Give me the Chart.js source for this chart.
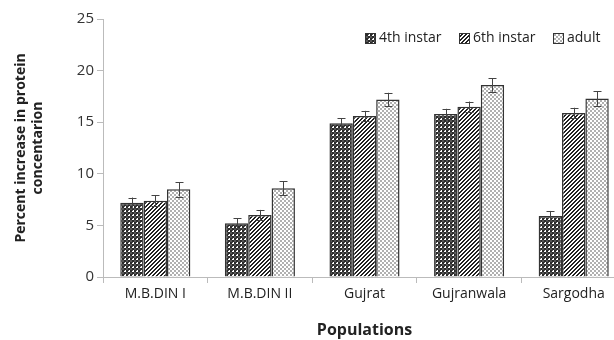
<!DOCTYPE html>
<html><head><meta charset="utf-8">
<script src="https://cdn.jsdelivr.net/npm/chart.js@4/dist/chart.umd.min.js"></script>
<style>
html,body{margin:0;padding:0;background:#fff;overflow:hidden;width:614px;height:340px}
#wrap{width:626px;height:340px;position:relative}
</style></head>
<body><div id="wrap"><canvas id="c" width="626" height="340"></canvas></div>
<script>
const categories = ['M.B.DIN I', 'M.B.DIN II', 'Gujrat', 'Gujranwala', 'Sargodha'];
const seriesLabels = ['4th instar', '6th instar', 'adult'];
const instar4 = [7.2, 5.2, 14.9, 15.8, 5.9];
const instar6 = [7.4, 6.0, 15.6, 16.5, 15.9];
const adult = [8.5, 8.6, 17.2, 18.6, 17.3];
const err4 = [0.5, 0.5, 0.5, 0.5, 0.5];
const err6 = [0.5, 0.5, 0.5, 0.5, 0.5];
const errA = [0.7, 0.7, 0.65, 0.65, 0.7];
const yTicks = [0, 5, 10, 15, 20, 25];

function makePattern(kind){
  const t = document.createElement('canvas');
  const g = t.getContext('2d');
  if(kind==='check'){
    t.width=4;t.height=4;
    g.fillStyle='#fff';g.fillRect(0,0,4,4);
    g.fillStyle='#2a2a2a';g.fillRect(0,0,2,2);g.fillRect(2,2,2,2);
    g.fillStyle='#555';g.fillRect(2,0,2,2);g.fillRect(0,2,1,1);
  } else if(kind==='diag'){
    t.width=4;t.height=4;
    g.fillStyle='#fff';g.fillRect(0,0,4,4);
    g.fillStyle='#222';
    for(let i=0;i<4;i++){ g.fillRect((3-i+4)%4,i,1,1); g.fillRect((4-i+4)%4,i,1,1); }
  } else {
    t.width=4;t.height=4;
    g.fillStyle='#fff';g.fillRect(0,0,4,4);
    g.fillStyle='#b0b0b0';g.fillRect(0,0,2,2);g.fillRect(2,2,2,2);
  }
  return g.createPattern(t,'repeat');
}
const ctx = document.getElementById('c').getContext('2d');
const pats = [makePattern('check'), makePattern('diag'), makePattern('dots')];
const errs = [err4, err6, errA];

const errorBars = {
  id:'errorBars',
  afterDatasetsDraw(chart){
    const c = chart.ctx; const y = chart.scales.y;
    c.save(); c.strokeStyle='#444'; c.lineWidth=1;
    chart.data.datasets.forEach((ds,di)=>{
      const meta = chart.getDatasetMeta(di);
      meta.data.forEach((bar,i)=>{
        const v = ds.data[i], e = errs[di][i];
        const x = Math.round(bar.x)+0.5;
        const yt = y.getPixelForValue(v+e), yb = y.getPixelForValue(v-e);
        c.beginPath();
        c.moveTo(x,yt);c.lineTo(x,yb);
        c.moveTo(x-4,Math.round(yt)+0.5);c.lineTo(x+4,Math.round(yt)+0.5);
        c.moveTo(x-4,Math.round(yb)+0.5);c.lineTo(x+4,Math.round(yb)+0.5);
        c.stroke();
      });
    });
    c.restore();
  }
};

const legendDraw = {
  id:'legendDraw',
  afterDraw(chart){
    const c = chart.ctx;
    c.save();
    c.font = '14px "Open Sans", sans-serif';
    c.textBaseline='middle';
    const xs = [365, 459, 553];
    const yc = 38;
    chart.data.datasets.forEach((ds,i)=>{
      c.fillStyle = ds.backgroundColor;
      c.fillRect(xs[i], yc-5, 10, 10);
      c.strokeStyle='#333'; c.lineWidth=1;
      c.strokeRect(xs[i]+0.5, yc-4.5, 10, 10);
      c.fillStyle='#222';
      c.fillText(ds.label, xs[i]+14, yc);
    });
    c.restore();
  }
};

const datasets = [instar4, instar6, adult].map((d,i)=>({
  label: seriesLabels[i], data: d, backgroundColor: pats[i],
  borderColor:'#333', borderWidth:1.5, categoryPercentage:0.67, barPercentage:1.0
}));

new Chart(ctx, {
  type:'bar',
  data:{labels:categories, datasets},
  options:{
    responsive:false, animation:false, devicePixelRatio:1,
    layout:{padding:{top:19,left:0,right:0,bottom:0}},
    plugins:{legend:{display:false}, tooltip:{enabled:false}},
    scales:{
      x:{
        offset:true,
        grid:{display:true, drawOnChartArea:false, offset:true, color:'#bbb', tickLength:6},
        border:{color:'#bbb', width:1},
        ticks:{color:'#222', font:{family:'"Open Sans", sans-serif', size:14}, padding:3},
        title:{display:true, text:'Populations', color:'#222', font:{family:'"Open Sans", sans-serif', size:16, weight:'bold'}, padding:{top:8,bottom:0}},
        afterFit(s){ s.height = 63; }
      },
      y:{
        min:0, max:25,
        afterBuildTicks(s){ s.ticks = yTicks.map(v=>({value:v})); },
        grid:{display:true, drawOnChartArea:false, color:'#bbb', tickLength:6},
        border:{color:'#bbb', width:1},
        ticks:{color:'#333', font:{family:'"Open Sans", sans-serif', size:15}, padding:3},
        title:{display:true, text:['Percent increase in protein','concentarion'], color:'#222', font:{family:'"Open Sans", sans-serif', size:14, weight:'bold'}, padding:{top:13,bottom:6}},
        afterFit(s){ s.width = 103; }
      }
    }
  },
  plugins:[errorBars, legendDraw]
});
</script></body></html>
